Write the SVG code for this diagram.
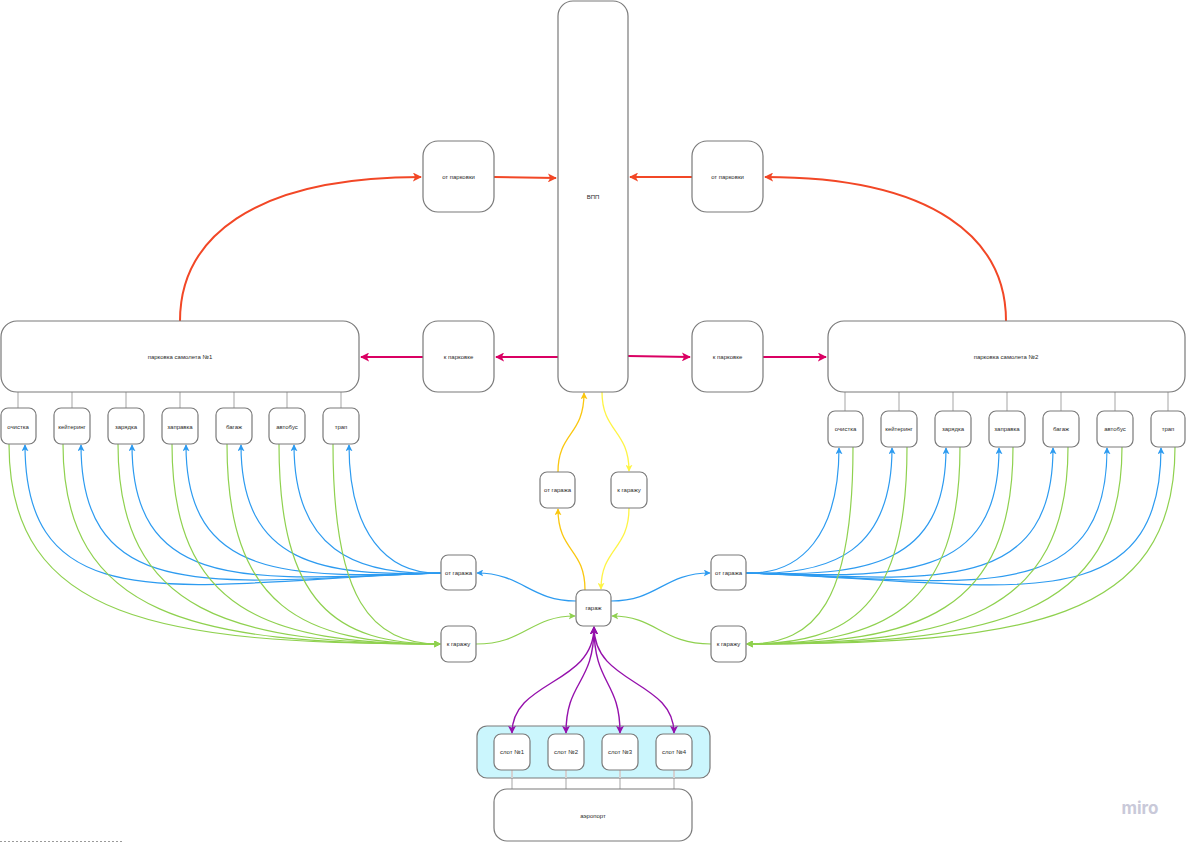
<svg xmlns="http://www.w3.org/2000/svg" width="1186" height="842" viewBox="0 0 1186 842">
<style>
.n{fill:#fff;stroke:#7a7a7a;stroke-width:1.2}
.t{font-family:"Liberation Sans",Arial,sans-serif;font-size:6px;fill:#2b2b2b;text-anchor:middle;dominant-baseline:central}
.s{stroke:#d2d2d2;stroke-width:2;fill:none}
.c{fill:none}
.red{stroke:#f24726;stroke-width:2}
.mag{stroke:#da0063;stroke-width:2}
.yo{stroke:#fac710;stroke-width:1.3}
.yl{stroke:#fef445;stroke-width:1.3}
.bl{stroke:#2d9bf0;stroke-width:1.2}
.gr{stroke:#8fd14f;stroke-width:1.2}
.pu{stroke:#9510ac;stroke-width:1.4}
</style>
<defs>
<marker id="aRed" markerUnits="userSpaceOnUse" viewBox="0 0 10 10" refX="9" refY="5" markerWidth="9" markerHeight="9" orient="auto"><path d="M0,0 L10,5 L0,10 L2.5,5 z" fill="#f24726"/></marker>
<marker id="aMag" markerUnits="userSpaceOnUse" viewBox="0 0 10 10" refX="9" refY="5" markerWidth="9" markerHeight="9" orient="auto"><path d="M0,0 L10,5 L0,10 L2.5,5 z" fill="#da0063"/></marker>
<marker id="aYo" markerUnits="userSpaceOnUse" viewBox="0 0 10 10" refX="9" refY="5" markerWidth="7" markerHeight="7" orient="auto"><path d="M0,0 L10,5 L0,10 L2.5,5 z" fill="#fac710"/></marker>
<marker id="aYl" markerUnits="userSpaceOnUse" viewBox="0 0 10 10" refX="9" refY="5" markerWidth="7" markerHeight="7" orient="auto"><path d="M0,0 L10,5 L0,10 L2.5,5 z" fill="#fef445"/></marker>
<marker id="aBl" markerUnits="userSpaceOnUse" viewBox="0 0 10 10" refX="9" refY="5" markerWidth="7" markerHeight="7" orient="auto"><path d="M0,0 L10,5 L0,10 L2.5,5 z" fill="#2d9bf0"/></marker>
<marker id="aGr" markerUnits="userSpaceOnUse" viewBox="0 0 10 10" refX="9" refY="5" markerWidth="7" markerHeight="7" orient="auto"><path d="M0,0 L10,5 L0,10 L2.5,5 z" fill="#8fd14f"/></marker>
<marker id="aPu" markerUnits="userSpaceOnUse" viewBox="0 0 10 10" refX="9" refY="5" markerWidth="8" markerHeight="8" orient="auto-start-reverse"><path d="M0,0 L10,5 L0,10 L2.5,5 z" fill="#9510ac"/></marker>
</defs>
<rect width="1186" height="842" fill="#fff"/>

<g id="stubs">
<path class="s" d="M18,392V408M72,392V408M126,392V408M180,392V408M234,392V408M287,392V408M341,392V408"/>
<path class="s" d="M845,392V411M899,392V411M953,392V411M1007,392V411M1061,392V411M1115,392V411M1168,392V411"/>
<path class="s" d="M512,778V789M566,778V789M620,778V789M674,778V789"/>
</g>

<g id="slots-frame"><rect x="477" y="726" width="233" height="52" rx="10" fill="#cbf6fd" stroke="#7a7a7a" stroke-width="1.2"/></g>
<path class="s" d="M512,770V778M566,770V778M620,770V778M674,770V778"/>

<g id="connectors">
<path class="c red" d="M180,321 C180,240 250,177 421,177" marker-end="url(#aRed)"/>
<path class="c red" d="M494,177 L556,178" marker-end="url(#aRed)"/>
<path class="c red" d="M692,177 L630,177" marker-end="url(#aRed)"/>
<path class="c red" d="M1006,321 C1006,240 936,177 765,177" marker-end="url(#aRed)"/>
<path class="c mag" d="M558,357 L496,357" marker-end="url(#aMag)"/>
<path class="c mag" d="M423,357 L361,357" marker-end="url(#aMag)"/>
<path class="c mag" d="M628,356 L690,357" marker-end="url(#aMag)"/>
<path class="c mag" d="M763,357 L826,357" marker-end="url(#aMag)"/>

<path class="c yo" d="M585,590 C585,548 558,552 558,509" marker-end="url(#aYo)"/>
<path class="c yo" d="M558,472 C558,432 584,436 584,393" marker-end="url(#aYo)"/>
<path class="c yl" d="M602,392 C602,432 629,430 629,471" marker-end="url(#aYl)"/>
<path class="c yl" d="M629,508 C629,550 601,548 601,589" marker-end="url(#aYl)"/>

<path class="c bl" d="M576,601 C530,601 522,573 477,573" marker-end="url(#aBl)"/>
<path class="c bl" d="M611,601 C658,601 664,573 710,573" marker-end="url(#aBl)"/>
<path class="c gr" d="M476,644 C525,644 530,616 575,616" marker-end="url(#aGr)"/>
<path class="c gr" d="M711,644 C662,644 656,616 612,616" marker-end="url(#aGr)"/>

<path class="c bl" d="M441,573 C191,581 25,629 25,445" marker-end="url(#aBl)"/>
<path class="c bl" d="M441,573 C225,580 81,612 81,445" marker-end="url(#aBl)"/>
<path class="c bl" d="M441,573 C256,579 132,597 132,445" marker-end="url(#aBl)"/>
<path class="c bl" d="M441,573 C288,578 186,580 186,445" marker-end="url(#aBl)"/>
<path class="c bl" d="M441,573 C321,577 241,564 241,445" marker-end="url(#aBl)"/>
<path class="c bl" d="M441,573 C353,576 294,548 294,445" marker-end="url(#aBl)"/>
<path class="c bl" d="M441,573 C386,575 349,532 349,445" marker-end="url(#aBl)"/>

<path class="c gr" d="M9,444 C9,620 160,644 440,644" marker-end="url(#aGr)"/>
<path class="c gr" d="M63,444 C63,617 195,644 440,644" marker-end="url(#aGr)"/>
<path class="c gr" d="M118,444 C118,613 231,644 440,644" marker-end="url(#aGr)"/>
<path class="c gr" d="M172,444 C172,610 266,644 440,644" marker-end="url(#aGr)"/>
<path class="c gr" d="M227,444 C227,607 302,644 440,644" marker-end="url(#aGr)"/>
<path class="c gr" d="M279,444 C279,604 336,644 440,644" marker-end="url(#aGr)"/>
<path class="c gr" d="M333,444 C333,600 371,644 440,644" marker-end="url(#aGr)"/>

<path class="c bl" d="M746,573 C802,575 839,534 839,448" marker-end="url(#aBl)"/>
<path class="c bl" d="M746,573 C834,576 892,550 892,448" marker-end="url(#aBl)"/>
<path class="c bl" d="M746,573 C866,577 946,566 946,448" marker-end="url(#aBl)"/>
<path class="c bl" d="M746,573 C898,578 999,582 999,448" marker-end="url(#aBl)"/>
<path class="c bl" d="M746,573 C930,579 1053,598 1053,448" marker-end="url(#aBl)"/>
<path class="c bl" d="M746,573 C963,580 1107,614 1107,448" marker-end="url(#aBl)"/>
<path class="c bl" d="M746,573 C995,581 1161,630 1161,448" marker-end="url(#aBl)"/>

<path class="c gr" d="M853,447 C853,602 816,644 747,644" marker-end="url(#aGr)"/>
<path class="c gr" d="M907,447 C907,606 851,644 747,644" marker-end="url(#aGr)"/>
<path class="c gr" d="M960,447 C960,609 885,644 747,644" marker-end="url(#aGr)"/>
<path class="c gr" d="M1013,447 C1013,612 920,644 747,644" marker-end="url(#aGr)"/>
<path class="c gr" d="M1068,447 C1068,615 955,644 747,644" marker-end="url(#aGr)"/>
<path class="c gr" d="M1122,447 C1122,619 990,644 747,644" marker-end="url(#aGr)"/>
<path class="c gr" d="M1175,447 C1175,622 1025,644 747,644" marker-end="url(#aGr)"/>

<path class="c pu" d="M594,627 C594,685 512,680 512,733" marker-start="url(#aPu)" marker-end="url(#aPu)"/>
<path class="c pu" d="M594,627 C594,685 566,680 566,733" marker-start="url(#aPu)" marker-end="url(#aPu)"/>
<path class="c pu" d="M594,627 C594,685 620,680 620,733" marker-start="url(#aPu)" marker-end="url(#aPu)"/>
<path class="c pu" d="M594,627 C594,685 674,680 674,733" marker-start="url(#aPu)" marker-end="url(#aPu)"/>
</g>

<g id="vpp"><rect class="n" x="558" y="1" width="70" height="391" rx="15"/><text class="t" x="593" y="197">ВПП</text></g>
<g id="ot-parkovki-1"><rect class="n" x="423" y="141" width="71" height="71" rx="15"/><text class="t" x="458.5" y="177">от парковки</text></g>
<g id="ot-parkovki-2"><rect class="n" x="692" y="141" width="71" height="71" rx="15"/><text class="t" x="727.5" y="177">от парковки</text></g>
<g id="k-parkovke-1"><rect class="n" x="423" y="321" width="71" height="71" rx="15"/><text class="t" x="458.5" y="357">к парковке</text></g>
<g id="k-parkovke-2"><rect class="n" x="692" y="321" width="71" height="71" rx="15"/><text class="t" x="727.5" y="357">к парковке</text></g>
<g id="parking-1"><rect class="n" x="1" y="321" width="358" height="71" rx="16"/><text class="t" x="180" y="357">парковка самолета №1</text></g>
<g id="parking-2"><rect class="n" x="828" y="321" width="357" height="71" rx="16"/><text class="t" x="1006" y="357">парковка самолета №2</text></g>

<g id="l-ochistka"><rect class="n" x="1" y="408" width="35" height="36" rx="7"/><text class="t" x="18" y="427">очистка</text></g>
<g id="l-keitering"><rect class="n" x="54" y="408" width="36" height="36" rx="7"/><text class="t" x="72" y="427">кейтеринг</text></g>
<g id="l-zaryadka"><rect class="n" x="108" y="408" width="36" height="36" rx="7"/><text class="t" x="126" y="427">зарядка</text></g>
<g id="l-zapravka"><rect class="n" x="162" y="408" width="36" height="36" rx="7"/><text class="t" x="180" y="427">заправка</text></g>
<g id="l-bagazh"><rect class="n" x="216" y="408" width="36" height="36" rx="7"/><text class="t" x="234" y="427">багаж</text></g>
<g id="l-avtobus"><rect class="n" x="269" y="408" width="36" height="36" rx="7"/><text class="t" x="287" y="427">автобус</text></g>
<g id="l-trap"><rect class="n" x="323" y="408" width="36" height="36" rx="7"/><text class="t" x="341" y="427">трап</text></g>

<g id="r-ochistka"><rect class="n" x="828" y="411" width="35" height="36" rx="7"/><text class="t" x="845.5" y="429">очистка</text></g>
<g id="r-keitering"><rect class="n" x="881" y="411" width="36" height="36" rx="7"/><text class="t" x="899" y="429">кейтеринг</text></g>
<g id="r-zaryadka"><rect class="n" x="935" y="411" width="36" height="36" rx="7"/><text class="t" x="953" y="429">зарядка</text></g>
<g id="r-zapravka"><rect class="n" x="989" y="411" width="36" height="36" rx="7"/><text class="t" x="1007" y="429">заправка</text></g>
<g id="r-bagazh"><rect class="n" x="1043" y="411" width="36" height="36" rx="7"/><text class="t" x="1061" y="429">багаж</text></g>
<g id="r-avtobus"><rect class="n" x="1097" y="411" width="36" height="36" rx="7"/><text class="t" x="1115" y="429">автобус</text></g>
<g id="r-trap"><rect class="n" x="1151" y="411" width="34" height="36" rx="7"/><text class="t" x="1168" y="429">трап</text></g>

<g id="c-ot-garazha"><rect class="n" x="540" y="472" width="35" height="36" rx="7"/><text class="t" x="557.5" y="490">от гаража</text></g>
<g id="c-k-garazhu"><rect class="n" x="611" y="472" width="36" height="36" rx="7"/><text class="t" x="629" y="490">к гаражу</text></g>
<g id="garazh"><rect class="n" x="576" y="590" width="35" height="36" rx="7"/><text class="t" x="593.5" y="608">гараж</text></g>
<g id="l-ot-garazha"><rect class="n" x="441" y="555" width="35" height="35" rx="7"/><text class="t" x="458.5" y="573">от гаража</text></g>
<g id="r-ot-garazha"><rect class="n" x="711" y="555" width="35" height="35" rx="7"/><text class="t" x="728.5" y="573">от гаража</text></g>
<g id="l-k-garazhu"><rect class="n" x="441" y="626" width="35" height="36" rx="7"/><text class="t" x="458.5" y="644">к гаражу</text></g>
<g id="r-k-garazhu"><rect class="n" x="711" y="626" width="35" height="36" rx="7"/><text class="t" x="728.5" y="644">к гаражу</text></g>

<g id="slot-1"><rect class="n" x="494" y="734" width="36" height="36" rx="7"/><text class="t" x="512" y="752">слот №1</text></g>
<g id="slot-2"><rect class="n" x="548" y="734" width="36" height="36" rx="7"/><text class="t" x="566" y="752">слот №2</text></g>
<g id="slot-3"><rect class="n" x="602" y="734" width="36" height="36" rx="7"/><text class="t" x="620" y="752">слот №3</text></g>
<g id="slot-4"><rect class="n" x="656" y="734" width="36" height="36" rx="7"/><text class="t" x="674" y="752">слот №4</text></g>
<g id="aeroport"><rect class="n" x="494" y="789" width="198" height="52" rx="13"/><text class="t" x="593" y="816">аэропорт</text></g>

<line x1="0" y1="841.5" x2="123" y2="841.5" stroke="#9a9a9a" stroke-width="1" stroke-dasharray="2,2"/>
<text x="1140" y="814" font-family="Inter,'Liberation Sans',sans-serif" font-size="17" font-weight="bold" fill="#c9c9d9" text-anchor="middle">miro</text>
</svg>
